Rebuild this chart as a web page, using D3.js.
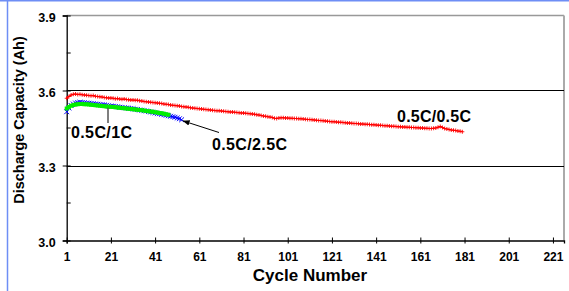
<!DOCTYPE html>
<html><head><meta charset="utf-8">
<script src="https://cdn.jsdelivr.net/npm/d3@7/dist/d3.min.js"></script>
<style>
body{margin:0;padding:0;background:#fff;}
svg{display:block;font-family:"Liberation Sans",Arial,sans-serif;font-weight:bold;}
</style></head><body>
<svg id="c" width="569" height="291"></svg>
<script>
// ---- data ----
const yTicks = [3.0, 3.3, 3.6, 3.9];
const yMinorTicks = [3.15, 3.45, 3.75];
const xTicks = [1, 21, 41, 61, 81, 101, 121, 141, 161, 181, 201, 221];

const red = [
3.569,3.576,3.582,3.585,3.586,3.584,3.585,3.583,3.582,3.581,
3.580,3.579,3.580,3.577,3.576,3.575,3.574,3.572,3.571,3.570,
3.570,3.569,3.567,3.568,3.566,3.565,3.566,3.564,3.563,3.562,
3.562,3.561,3.561,3.559,3.558,3.556,3.555,3.554,3.553,3.552,
3.551,3.550,3.549,3.548,3.546,3.545,3.544,3.542,3.541,3.540,
3.539,3.538,3.536,3.535,3.534,3.533,3.531,3.530,3.529,3.528,
3.527,3.526,3.525,3.524,3.523,3.522,3.521,3.520,3.519,3.519,
3.518,3.517,3.516,3.515,3.514,3.514,3.513,3.512,3.511,3.510,
3.510,3.509,3.508,3.507,3.506,3.505,3.503,3.502,3.500,3.498,
3.497,3.495,3.494,3.492,3.489,3.488,3.490,3.491,3.491,3.490,
3.490,3.489,3.489,3.488,3.488,3.487,3.487,3.486,3.485,3.484,
3.484,3.483,3.482,3.481,3.480,3.480,3.479,3.478,3.477,3.476,
3.475,3.475,3.474,3.473,3.473,3.472,3.471,3.470,3.470,3.469,
3.468,3.468,3.467,3.466,3.466,3.465,3.465,3.464,3.463,3.463,
3.462,3.461,3.461,3.460,3.459,3.459,3.458,3.457,3.457,3.456,
3.455,3.455,3.454,3.454,3.453,3.453,3.452,3.452,3.451,3.451,
3.450,3.450,3.449,3.449,3.448,3.448,3.449,3.450,3.453,3.456,
3.452,3.448,3.446,3.444,3.442,3.441,3.440,3.438,3.437,3.435];

const blue = [
3.515,3.530,3.540,3.546,3.550,3.552,3.553,3.552,3.551,3.550,
3.549,3.548,3.547,3.546,3.545,3.544,3.543,3.542,3.541,3.539,
3.538,3.537,3.536,3.535,3.533,3.532,3.531,3.530,3.529,3.528,
3.527,3.525,3.524,3.522,3.521,3.519,3.518,3.516,3.514,3.512,
3.510,3.508,3.507,3.505,3.503,3.501,3.499,3.497,3.495,3.493,
3.490,3.487,3.483];

const green = [
3.528,3.534,3.539,3.542,3.544,3.545,3.546,3.546,3.545,3.545,
3.544,3.543,3.542,3.541,3.540,3.539,3.538,3.537,3.536,3.535,
3.535,3.534,3.533,3.532,3.531,3.530,3.529,3.528,3.527,3.526,
3.525,3.524,3.523,3.522,3.521,3.520,3.518,3.517,3.516,3.515,
3.513,3.512,3.510,3.509,3.507,3.505,3.503];

const labels = ["0.5C/0.5C", "0.5C/2.5C", "0.5C/1C"];
const xTitle = "Cycle Number";
const yTitle = "Discharge Capacity (Ah)";

// ---- layout ----
const svg = d3.select("#c");
const L = 66.7, R = 564, T = 15.5, B = 240.5;
const x = d3.scaleLinear().domain([1, 226]).range([L, R]);
const y = d3.scaleLinear().domain([3.0, 3.9]).range([B, T]);

// blue frame
svg.append("line").attr("x1",0).attr("x2",569).attr("y1",0.5).attr("y2",0.5).attr("stroke","#6e8ef5").attr("stroke-width",2);
svg.append("line").attr("x1",7.5).attr("x2",7.5).attr("y1",0).attr("y2",291).attr("stroke","#6e8ef5").attr("stroke-width",1.5);

// plot border (top/right gray)
svg.append("line").attr("x1",L).attr("x2",R).attr("y1",T).attr("y2",T).attr("stroke","#999").attr("stroke-width",1.5);
svg.append("line").attr("x1",R).attr("x2",R).attr("y1",T).attr("y2",B).attr("stroke","#aaa").attr("stroke-width",2);

// gridlines
svg.append("g").selectAll("line").data([3.3, 3.6]).join("line")
  .attr("x1",L).attr("x2",R).attr("y1",d=>Math.round(y(d))+0.5).attr("y2",d=>Math.round(y(d))+0.5)
  .attr("stroke","#000").attr("stroke-width",1);

// y axis
const yAxis = svg.append("g").attr("transform",`translate(${L},0)`)
  .call(d3.axisLeft(y).tickValues(yTicks).tickFormat(d3.format(".1f")).tickSize(4).tickPadding(7));
yAxis.select(".domain").attr("stroke","#000").attr("stroke-width",1.3);
yAxis.selectAll(".tick line").attr("x2",4).attr("x1",-4).attr("stroke","#000");
yAxis.selectAll(".tick text").attr("font-size",12.5).attr("font-weight","bold").attr("fill","#000")
  .attr("font-family","Liberation Sans, Arial, sans-serif").attr("dy","0.45em");
svg.append("g").selectAll("line").data(yMinorTicks).join("line")
  .attr("x1",L).attr("x2",L+4).attr("y1",d=>y(d)).attr("y2",d=>y(d)).attr("stroke","#000");

// x axis
const xAxis = svg.append("g").attr("transform",`translate(0,${B})`)
  .call(d3.axisBottom(x).tickValues(xTicks).tickFormat(d3.format("d")).tickSize(3).tickPadding(9));
xAxis.select(".domain").attr("stroke","#000").attr("stroke-width",1.3);
xAxis.selectAll(".tick line").attr("y1",-3).attr("y2",3).attr("stroke","#000");
xAxis.selectAll(".tick text").attr("font-size",12).attr("font-weight","bold").attr("fill","#000")
  .attr("font-family","Liberation Sans, Arial, sans-serif");

// series
function drawSeries(data, color, marker, s){
  const pts = data.map((v,i)=>[x(i+1), y(v)]);
  svg.append("path").attr("d", d3.line()(pts)).attr("fill","none").attr("stroke",color).attr("stroke-width",1.2);
  const g = svg.append("g");
  pts.forEach(([px,py])=>{
    if(marker==="plus"){
      g.append("path").attr("d",`M${px-s},${py}H${px+s}M${px},${py-s}V${py+s}`).attr("stroke",color).attr("stroke-width",0.9);
    } else if(marker==="x"){
      g.append("path").attr("d",`M${px-s},${py-s}L${px+s},${py+s}M${px-s},${py+s}L${px+s},${py-s}`).attr("stroke",color).attr("stroke-width",1);
    } else {
      g.append("rect").attr("x",px-s).attr("y",py-s).attr("width",2*s).attr("height",2*s).attr("fill",color);
    }
  });
}
drawSeries(red, "#ff0000", "plus", 2);
drawSeries(blue, "#0000ff", "x", 2.4);
drawSeries(green, "#00ee00", "square", 2);

// annotations
svg.append("text").attr("x",397).attr("y",121.5).attr("font-size",16).attr("textLength",74).text(labels[0]);
svg.append("text").attr("x",212).attr("y",150).attr("font-size",16).attr("textLength",75).text(labels[1]);
svg.append("text").attr("x",71).attr("y",137.5).attr("font-size",16).attr("textLength",61).text(labels[2]);

svg.append("defs").append("marker").attr("id","ah").attr("viewBox","0 0 10 10").attr("refX",10).attr("refY",5)
  .attr("markerWidth",7).attr("markerHeight",7).attr("orient","auto")
  .append("path").attr("d","M0,1L10,5L0,9z").attr("fill","#000");
svg.append("line").attr("x1",219).attr("y1",132.5).attr("x2",x(53)+1).attr("y2",y(blue[52])+1)
  .attr("stroke","#000").attr("stroke-width",1).attr("marker-end","url(#ah)");
svg.append("line").attr("x1",108).attr("x2",108).attr("y1",y(green[19])+1).attr("y2",123)
  .attr("stroke","#555").attr("stroke-width",1.5);

// titles
svg.append("text").attr("x",310).attr("y",281).attr("text-anchor","middle").attr("font-size",17).text(xTitle);
svg.append("text").attr("transform","translate(24,120) rotate(-90)").attr("text-anchor","middle").attr("font-size",14.5).text(yTitle);
</script>
</body></html>
